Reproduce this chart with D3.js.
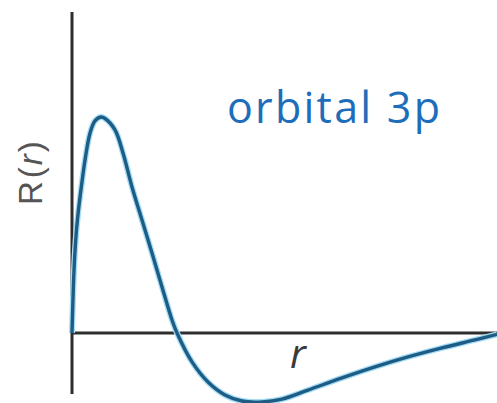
<!DOCTYPE html>
<html lang='en'>
	<head>
		<meta charset='utf-8'>
		<title>orbital 3p</title>
		<script type='text/javascript' src='https://d3js.org/d3.v7.min.js'></script>
		<style type='text/css'>
			body { margin: 0; background: white; }
			svg { display: block; }
		</style>
	</head>
	<body>
		<script type='text/javascript'>
			// radial function (r in arbitrary units, R scaled so the peak = 1)
			var rValues = [0, 0.08, 0.16, 0.24, 0.4, 0.52, 0.72, 0.92, 1.16, 1.32, 1.72, 2.04, 2.4, 2.8, 3.2, 3.6, 4.0, 4.2, 4.8, 5.44, 6.12, 6.8, 7.6, 8.4, 9.44, 10.8, 12.12, 13.44, 14.8, 16.12, 17];
			var RValues = [0, 0.29, 0.45, 0.55, 0.70, 0.80, 0.925, 0.982, 1.0, 0.993, 0.94, 0.833, 0.676, 0.523, 0.37, 0.213, 0.06, 0, -0.134, -0.227, -0.287, -0.315, -0.319, -0.306, -0.264, -0.208, -0.157, -0.111, -0.069, -0.032, -0.006];
			var title = 'orbital 3p';
			var xLabel = 'r';

			var w = 497;
			var h = 403;

			var svg = d3.select('body')
				.append('svg')
				.attr('width', w)
				.attr('height', h);

			var xScale = d3.scaleLinear()
				.domain([0, 17])
				.range([72, 497]);

			var yScale = d3.scaleLinear()
				.domain([0, 1])
				.range([333, 117]);

			var dataset = rValues.map(function(r, i) { return { r: r, R: RValues[i] }; });

			// axes, plain lines
			svg.append('line')
				.attr('x1', xScale(0)).attr('x2', xScale(0))
				.attr('y1', 12).attr('y2', 394)
				.attr('stroke', '#2e2e2e')
				.attr('stroke-width', 3);

			svg.append('line')
				.attr('x1', xScale(0)).attr('x2', w)
				.attr('y1', yScale(0)).attr('y2', yScale(0))
				.attr('stroke', '#2e2e2e')
				.attr('stroke-width', 3);

			var line = d3.line()
				.x(function(d) { return xScale(d.r); })
				.y(function(d) { return yScale(d.R); })
				.curve(d3.curveCatmullRom.alpha(0.5));

			// light halo, then the curve itself
			svg.append('path')
				.datum(dataset)
				.attr('d', line)
				.attr('fill', 'none')
				.attr('stroke', '#a6dcf5')
				.attr('stroke-width', 6);

			svg.append('path')
				.datum(dataset)
				.attr('d', line)
				.attr('fill', 'none')
				.attr('stroke', '#1d5c85')
				.attr('stroke-width', 3.4);

			// title
			svg.append('text')
				.attr('x', 227)
				.attr('y', 123)
				.attr('font-family', 'Open Sans')
				.attr('font-size', 43)
				.attr('fill', '#1e6dba')
				.attr('textLength', 213)
				.text(title);

			// y label, rotated
			var yl = svg.append('text')
				.attr('transform', 'translate(42,205) rotate(-90)')
				.attr('font-family', 'Liberation Sans')
				.attr('font-size', 33)
				.attr('fill', '#555');
			yl.append('tspan').text('R');
			yl.append('tspan').attr('dx', 3).text('(');
			yl.append('tspan').attr('dx', 2).attr('font-style', 'italic').text('r');
			yl.append('tspan').attr('dx', 2).text(')');

			// x label
			svg.append('text')
				.attr('x', 290)
				.attr('y', 368)
				.attr('font-family', 'Open Sans')
				.attr('font-style', 'italic')
				.attr('font-size', 40)
				.attr('fill', '#3a3a3a')
				.text(xLabel);
		</script>
	</body>
</html>
